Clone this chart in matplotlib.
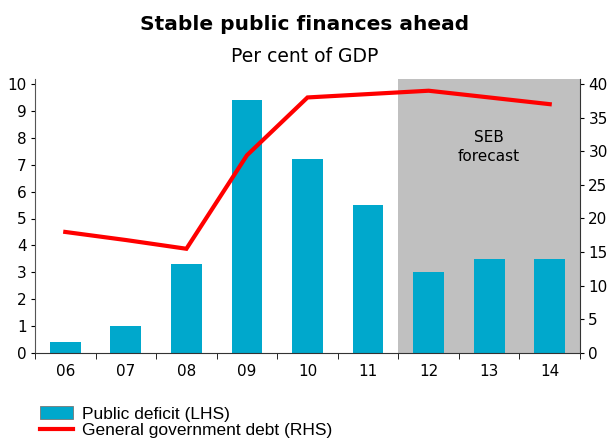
import matplotlib
matplotlib.use("Agg")
import matplotlib.pyplot as plt
from matplotlib.patches import Patch
from matplotlib.lines import Line2D
import numpy as np

years = ["06", "07", "08", "09", "10", "11", "12", "13", "14"]
deficit = [0.4, 1.0, 3.3, 9.4, 7.2, 5.5, 3.0, 3.5, 3.5]
debt = [18.0, 16.8, 15.5, 29.4, 38.0, 38.5, 39.0, 38.0, 37.0]
forecast_start = 6  # index of first forecast year

BAR = "#00A8CC"
LINE = "#FF0000"
GREY = "#C0C0C0"

W, H = 610, 441
fig = plt.figure(figsize=(W / 100, H / 100), dpi=100)
ax = fig.add_axes([35 / W, 1 - 353 / H, (580 - 35) / W, (353 - 79) / H])
ax2 = ax.twinx()

x = np.arange(len(years))
ax.set_xlim(-0.5, len(years) - 0.5)
top_left = 10 * (353 - 79) / (353 - 84)
ax.set_ylim(0, top_left)
ax2.set_ylim(0, top_left * 4)

ax.axvspan(forecast_start - 0.5, len(years) - 0.5, color=GREY, zorder=0, lw=0)
ax.bar(x, deficit, width=0.51, color=BAR, zorder=2)
ax2.plot(x, debt, color=LINE, lw=3, solid_joinstyle="miter", zorder=3)

ax.text((forecast_start - 0.5 + len(years) - 0.5) / 2, 7.65, "SEB\nforecast",
        ha="center", va="center", fontsize=11, linespacing=1.35, zorder=4)

# axes styling
ax.set_yticks(range(0, 11))
ax2.set_yticks(range(0, 41, 5))
ax.set_xticks(x)
ax.set_xticklabels(years)
ax.set_xticks(np.arange(-0.5, len(years), 1), minor=True)
ax.tick_params(axis="x", which="major", length=0, pad=8, labelsize=11)
ax.tick_params(axis="x", which="minor", length=4, direction="out")
ax.tick_params(axis="y", length=3, direction="out", labelsize=11, pad=3)
ax2.tick_params(axis="y", length=3, direction="out", labelsize=11, pad=3)

for a in (ax, ax2):
    a.spines["top"].set_visible(False)
ax.spines["right"].set_visible(False)
ax2.spines["left"].set_visible(False)
ax2.spines["bottom"].set_visible(False)
ax.spines["left"].set_color("#555555")
ax.spines["bottom"].set_color("#333333")
ax2.spines["right"].set_color("#333333")
ax.set_zorder(1)
ax2.set_zorder(2)
ax2.patch.set_visible(False)

fig.text(0.5, 1 - 25 / H, "Stable public finances ahead", ha="center", va="center",
         fontsize=14.5, fontweight="bold")
fig.text(0.5, 1 - 57 / H, "Per cent of GDP", ha="center", va="center", fontsize=13.5)

handles = [Patch(facecolor=BAR, edgecolor="#777777", lw=0.6),
           Line2D([0], [0], color=LINE, lw=3)]
labels = ["Public deficit (LHS)", "General government debt (RHS)"]
fig.legend(handles, labels, loc="upper left", bbox_to_anchor=(33 / W, 1 - 399 / H),
           frameon=False, handlelength=1.9, handleheight=0.8,
           handletextpad=0.55, labelspacing=0.05, borderaxespad=0,
           prop={"family": "Liberation Sans", "size": 12.5})

fig.savefig("out.png", dpi=100)
